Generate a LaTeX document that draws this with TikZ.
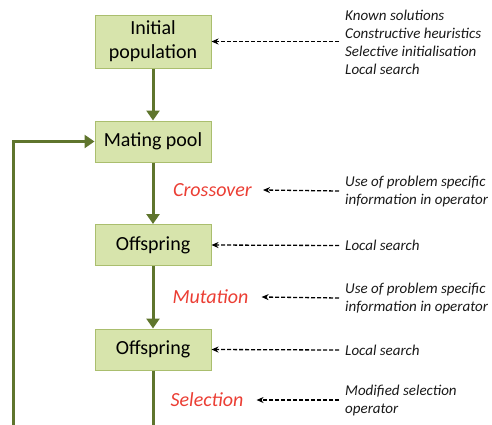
\documentclass[tikz,border=0pt]{standalone}
\usepackage{fontspec}
\setmainfont{Carlito}
\usetikzlibrary{arrows.meta}
\definecolor{boxfill}{RGB}{215,228,172}
\definecolor{boxdraw}{RGB}{170,190,110}
\definecolor{flow}{RGB}{95,117,45}
\definecolor{oplabel}{RGB}{235,62,52}
\definecolor{notetext}{RGB}{25,25,25}
\tikzset{
  stagebox/.style={draw=boxdraw, line width=1pt, fill=boxfill, minimum width=116pt, minimum height=41pt, inner sep=2pt, align=center, font=\fontsize{20}{24}\selectfont},
  flowline/.style={draw=flow, line width=3pt, -{Triangle[length=10pt,width=13pt]}},
  flowplain/.style={draw=flow, line width=3pt},
  oplab/.style={text=oplabel, font=\fontsize{20}{24}\selectfont\itshape, inner sep=0pt},
  note/.style={text=notetext, font=\fontsize{15}{18}\selectfont\itshape, align=left, anchor=west, inner sep=0pt},
  hint/.style={draw=black, line width=1.3pt, dash pattern=on 4pt off 2pt, -{Stealth[length=7pt,width=6pt]}}
}
\begin{document}
\begin{tikzpicture}[x=1pt,y=-1pt]
\useasboundingbox (0,0) rectangle (492,424);
\node[stagebox, minimum height=53pt] (init) at (153,41.5) {Initial\\population};
\node[stagebox] (mate) at (153,141.5) {Mating pool};
\node[stagebox] (off1) at (153,245) {Offspring};
\node[stagebox] (off2) at (153,349.5) {Offspring};
\coordinate (bottomc) at (153,432);
\coordinate (bottoml) at (13,432);
\coordinate (turn) at (13,141.5);

\draw[flowline] (init.south) -- (mate.north);
\draw[flowline] (mate.south) -- (off1.north);
\draw[flowline] (off1.south) -- (off2.north);
\draw[flowplain] (off2.south) -- (bottomc);
\draw[flowline] (bottoml) -- (turn) -- (mate.west);

\node[oplab] (cross) at (212.5,190) {Crossover};
\node[oplab] (mut) at (210.5,297) {Mutation};
\node[oplab] (sel) at (207,400) {Selection};

\node[note] (n1) at (345,42.5) {Known solutions\\Constructive heuristics\\Selective initialisation\\Local search};
\node[note] (n2) at (345,191) {Use of problem specific\\information in operator};
\node[note] (n3) at (345,245.5) {Local search};
\node[note] (n4) at (345,298) {Use of problem specific\\information in operator};
\node[note] (n5) at (345,350) {Local search};
\node[note] (n6) at (345,400) {Modified selection\\operator};

\draw[hint] (n1.west |- init.east) ++(-6,0) -- (init.east);
\draw[hint] (n2.west) ++(-6,0) -- ([xshift=11pt]cross.east);
\draw[hint] (n3.west) ++(-6,0) -- (off1.east);
\draw[hint] (n4.west) ++(-6,0) -- ([xshift=13pt]mut.east);
\draw[hint] (n5.west) ++(-6,0) -- (off2.east);
\draw[hint] (n6.west) ++(-6,0) -- ([xshift=13pt]sel.east);
\end{tikzpicture}
\end{document}
